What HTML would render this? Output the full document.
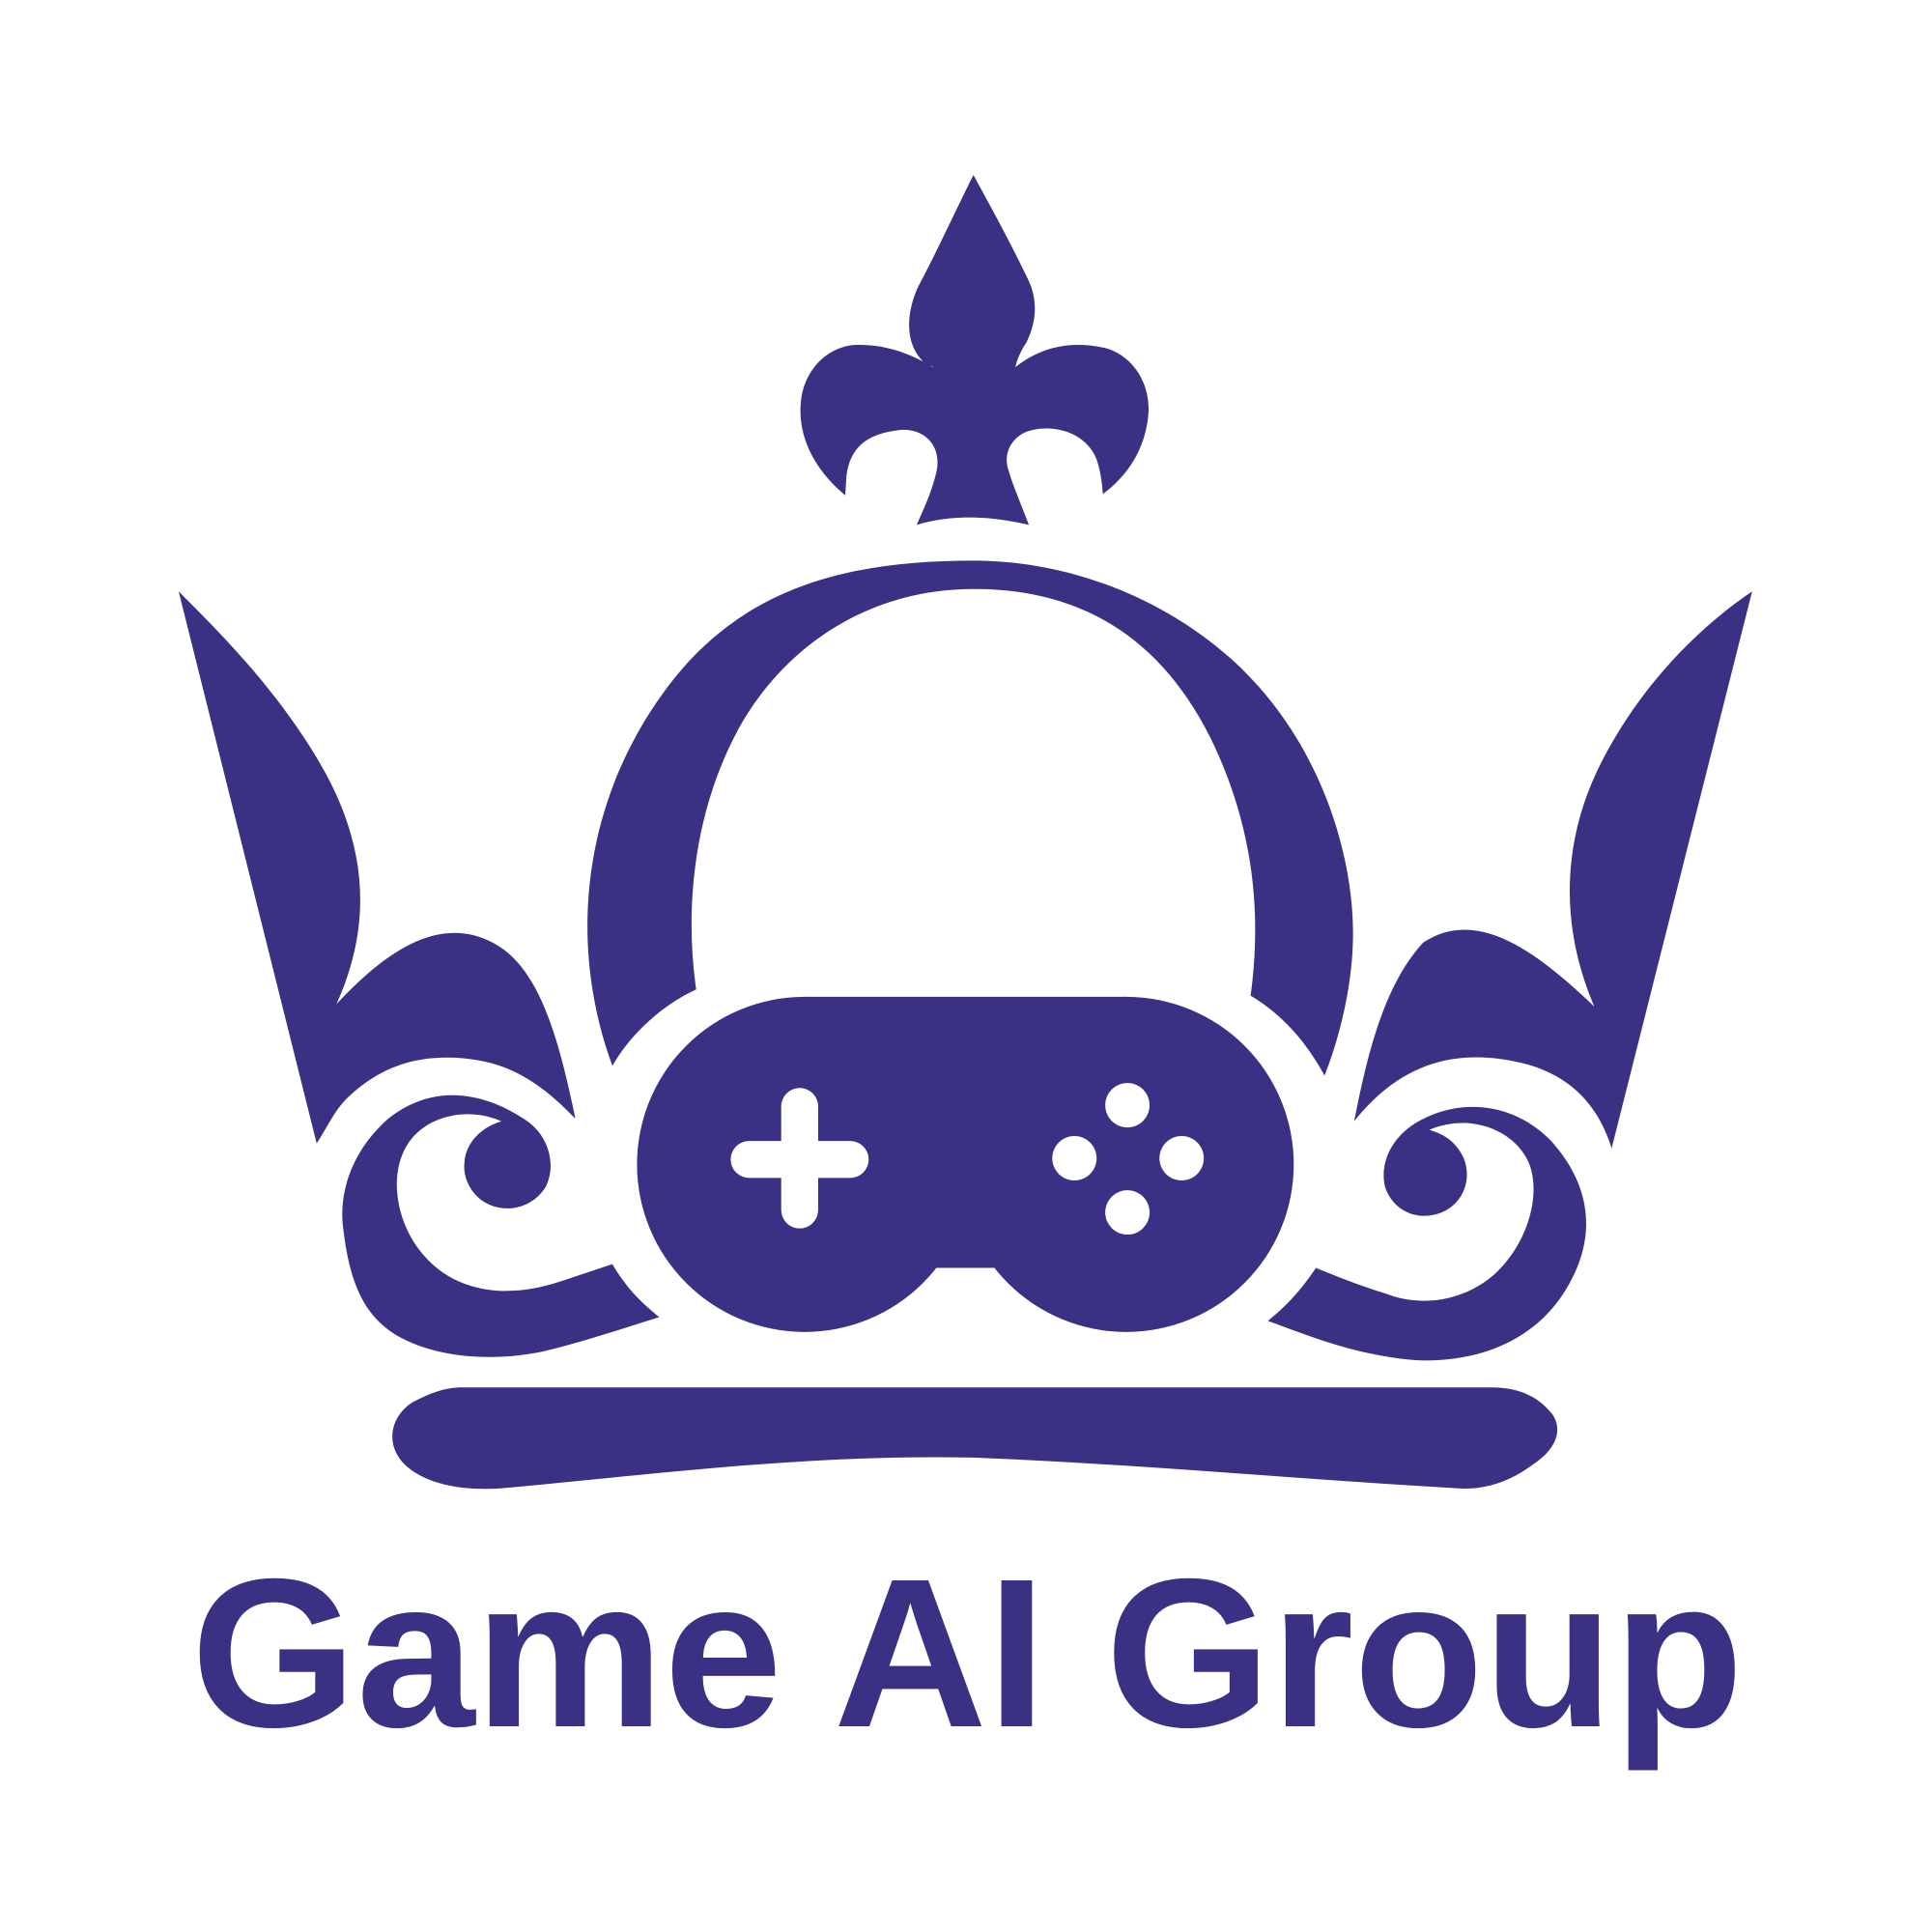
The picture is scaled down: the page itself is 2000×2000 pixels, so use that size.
<!DOCTYPE html>
<html><head><meta charset="utf-8"><style>
html,body{margin:0;padding:0;background:#fff;}
svg{display:block;}
</style></head><body>
<svg width="2000" height="2000" viewBox="0 0 1568 1568" xmlns="http://www.w3.org/2000/svg">
<g fill="#3a3184">
  <path d="M790,142 C775,172 760,205 745,233 C735,255 735,278 748,292 C752,298 757,296 757,298 C735,284 712,279 693,280 C670,282 652,302 650,326 C647,355 662,382 686,402 L687,386 C690,362 705,352 730,349 C748,347 765,360 760,383 C756,400 750,412 744,426 C774,417 805,419 835,426 C829,410 822,394 818,380 C814,366 823,352 838,349 C860,344 885,354 891,376 C894,386 895,398 895,401 C918,384 930,361 932,336 C934,310 918,287 895,282 C866,276 843,283 824,298 C826,290 829,284 833,278 C842,260 842,242 834,226 C820,197 808,175 790,142 Z"/>
  <path fill-rule="evenodd" d="M497,865 C462,770 470,655 540,560 C600,478 685,455 790,455 C880,455 960,495 1010,545 C1075,610 1100,700 1098,765 C1097,800 1088,840 1075,873 C1060,845 1040,823 1015,808 C1025,735 1015,665 982,598 C940,515 875,478 790,478 C700,478 630,530 595,600 C565,660 555,733 565,803 C537,816 512,839 497,865 Z"/>
  <path d="M145,480 L257,928 C265,916 272,900 283,890 C315,860 350,855 385,860 C420,865 445,885 467,908 C455,850 440,790 405,768 C360,740 315,770 273,815 C305,745 295,680 260,620 C225,560 180,515 145,480 Z"/>
  <path d="M1422,480 L1308,932 C1298,900 1278,875 1240,864 C1180,848 1135,865 1099,910 C1110,855 1123,800 1155,765 C1200,735 1250,775 1294,817 C1265,750 1268,680 1300,618 C1335,550 1385,505 1422,480 Z"/>
  <path d="M535,1069 C500,1080 470,1090 440,1097 C400,1105 360,1102 330,1088 C295,1072 283,1040 278,992 C276,960 290,930 315,908 C350,880 390,885 425,908 C445,920 452,945 443,963 C434,978 415,985 398,978 C385,973 375,958 377,943 C378,928 390,915 407,910 C380,898 345,905 330,930 C315,955 322,995 345,1020 C370,1048 410,1055 455,1040 L497,1026 C510,1048 522,1058 535,1069 Z"/>
  <path d="M1029,1072 C1065,1085 1100,1100 1150,1104 C1200,1106 1245,1088 1270,1048 C1297,1005 1292,962 1258,925 C1225,892 1180,892 1148,912 C1128,925 1120,945 1124,963 C1130,982 1150,992 1170,984 C1187,977 1195,958 1188,940 C1181,925 1170,920 1160,917 C1193,903 1228,917 1240,942 C1252,968 1240,1010 1212,1035 C1185,1058 1150,1060 1125,1050 C1105,1044 1085,1036 1068,1029 C1056,1047 1044,1060 1029,1072 Z"/>
  <g>
    <circle cx="653" cy="945" r="136"/>
    <circle cx="914" cy="945" r="136"/>
    <rect x="653" y="809" width="261" height="220"/>
    <g fill="#fff">
      <path d="M634,898 a15,15 0 0 1 30,0 V926 H690 a15,15 0 0 1 0,30 H664 V982 a15,15 0 0 1 -30,0 V956 H608 a15,15 0 0 1 0,-30 H634 Z"/>
      <circle cx="915" cy="897" r="18"/>
      <circle cx="872" cy="940" r="18"/>
      <circle cx="959" cy="940" r="18"/>
      <circle cx="915" cy="984" r="18"/>
    </g>
  </g>
  <path d="M375,1126 H1210 C1235,1126 1250,1135 1260,1148 C1268,1160 1264,1175 1245,1188 C1225,1203 1205,1209 1185,1208 C1060,1201 920,1188 790,1183 C650,1180 520,1198 405,1208 C370,1210 345,1203 330,1190 C312,1174 316,1150 335,1138 C350,1130 362,1126 375,1126 Z"/>
  <text x="155" y="1401" font-family="'Liberation Sans', sans-serif" font-weight="bold" font-size="172" textLength="1260" lengthAdjust="spacingAndGlyphs">Game AI Group</text>
</g>
</svg>
</body></html>
